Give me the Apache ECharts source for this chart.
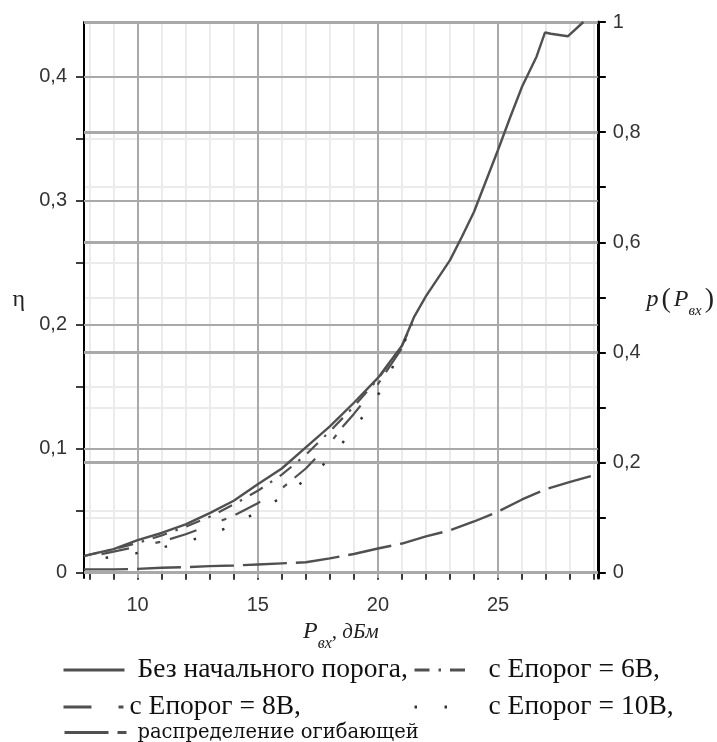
<!DOCTYPE html>
<html><head><meta charset="utf-8">
<script src="https://cdn.jsdelivr.net/npm/echarts@6/dist/echarts.min.js"></script>
<style>html,body{margin:0;padding:0;background:#fff}#c{width:717px;height:742px}</style>
</head><body><div id="c"></div>
<script>
// ---- tick values ----
const xTicks = [8,9,10,11,12,13,14,15,16,17,18,19,20,21,22,23,24,25,26,27,28,29];
const xLabels = [10,15,20,25];
const etaTicks = [0,0.05,0.1,0.15,0.2,0.25,0.3,0.35,0.4];
const etaLabels = [0,0.1,0.2,0.3,0.4];
const pTicks = [0,0.1,0.2,0.3,0.4,0.5,0.6,0.7,0.8,0.9,1];
const pLabels = [0,0.2,0.4,0.6,0.8,1];

// ---- series ----
const mainX = [7.77,8,9,10,11,12,13,14,15,16,17,18,19,20,21,21.5,22,23,23.5,24,25,25.5,26,26.6,26.95,27.2,27.9,28.55];
const mainY = [0.0134,0.0145,0.019,0.0263,0.032,0.039,0.048,0.058,0.0712,0.084,0.101,0.118,0.137,0.157,0.183,0.206,0.223,0.252,0.271,0.291,0.341,0.367,0.392,0.416,0.4355,0.4345,0.4325,0.444];

const v6X = [7.77,9,10,11,12,13,14,15,16,17,18,19,20,21,21.5];
const v6Y = [0.0134,0.019,0.024,0.030,0.037,0.045,0.055,0.066,0.079,0.095,0.114,0.134,0.156,0.183,0.204];

const v8X = [8.5,9,10,11,12,13,14,15,16,17,18,18.5,19,20,21];
const v8Y = [0.015,0.017,0.021,0.025,0.031,0.038,0.046,0.056,0.068,0.084,0.104,0.117,0.128,0.152,0.181];

const v10X = [8.67,9.93,11.17,12.5,13.72,14.9,16.02,17.03,18.02,18.82,19.64,20.36,20.88,21.5];
const v10Y = [0.012,0.0156,0.021,0.0277,0.036,0.048,0.061,0.0755,0.092,0.112,0.1325,0.154,0.178,0.201];

const distX = [7.77,9,10,11,12,13,14,15,16,17,18,19,20,21,22,23,24,25,26,27,28,29.15];
const distY = [0.006,0.006,0.007,0.009,0.010,0.012,0.013,0.015,0.017,0.019,0.026,0.034,0.044,0.053,0.066,0.077,0.093,0.111,0.133,0.152,0.165,0.179];

const names = ['Без начального порога,','с Епорог = 6В,','с Епорог = 8В,','с Епорог = 10В,','распределение огибающей'];

const zip = (xs, ys) => xs.map((x, i) => [x, ys[i]]);
const fmt = v => String(v).replace('.', ',');

const lineCol = '#505050';
const light = '#ebebeb', mid = '#a9a9a9';
const sansLab = {fontFamily:'Liberation Sans', fontSize:20, color:'#333'};

const chart = echarts.init(document.getElementById('c'), null, {renderer:'canvas'});
const legendText = {fontFamily:'Liberation Serif', fontSize:27.5, color:'#111', lineHeight:28};
const legendBase = {itemHeight:14, padding:0, selectedMode:false, itemStyle:{opacity:0}};
chart.setOption({
  animation:false,
  backgroundColor:'#fff',
  grid:{left:84, right:115, top:22, bottom:164},
  xAxis:[
    {type:'value', min:7.77, max:29.15, z:0,
     axisLine:{show:true, lineStyle:{color:'#000', width:2}},
     axisTick:{show:true, customValues:xTicks, length:7, lineStyle:{color:'#000', width:1.5}},
     axisLabel:{customValues:xLabels, margin:17, ...sansLab, formatter:fmt},
     splitLine:{show:true, lineStyle:{color:light, width:2}},
     name:'{i|P}{s|вх}{t|, дБм}', nameLocation:'middle', nameGap:34,
     nameTextStyle:{rich:{
       i:{fontFamily:'Liberation Serif', fontStyle:'italic', fontSize:24, color:'#222'},
       s:{fontFamily:'Liberation Serif', fontStyle:'italic', fontSize:16, color:'#222', padding:[24,0,0,0]},
       t:{fontFamily:'Liberation Serif', fontStyle:'italic', fontSize:21, color:'#222'}
     }}},
    {type:'value', min:7.77, max:29.15, position:'bottom', z:0.5,
     axisLine:{show:false}, axisTick:{show:false, customValues:xLabels}, axisLabel:{show:false},
     splitLine:{show:true, lineStyle:{color:mid, width:2}}}
  ],
  yAxis:[
    {type:'value', position:'left', min:-0.0043, max:0.444, z:0,
     axisLine:{show:true, lineStyle:{color:'#000', width:2}},
     axisTick:{show:true, customValues:etaTicks, length:8, lineStyle:{color:'#000', width:1.5}},
     axisLabel:{customValues:etaLabels, margin:17, ...sansLab, formatter:fmt},
     splitLine:{show:true, lineStyle:{color:light, width:2}},
     name:'η', nameLocation:'middle', nameRotate:0, nameGap:59,
     nameTextStyle:{fontFamily:'Liberation Serif', fontSize:24, color:'#222', align:'right', verticalAlign:'middle', padding:[14,0,0,0]}},
    {type:'value', position:'right', min:-0.0096, max:1, z:0,
     axisLine:{show:true, lineStyle:{color:'#000', width:3}},
     axisTick:{show:true, customValues:pTicks, length:8, lineStyle:{color:'#000', width:2}},
     axisLabel:{customValues:pLabels, margin:15, ...sansLab, formatter:fmt},
     splitLine:{show:true, lineStyle:{color:light, width:2}},
     name:'{i|p}{b|(}{i|P}{s|вх}{b|)}', nameLocation:'middle', nameRotate:0, nameGap:43,
     nameTextStyle:{align:'left', verticalAlign:'middle', rich:{
       i:{fontFamily:'Liberation Serif', fontStyle:'italic', fontSize:24, color:'#222'},
       b:{fontFamily:'Liberation Serif', fontSize:28, color:'#222', padding:[0,3,0,3]},
       s:{fontFamily:'Liberation Serif', fontStyle:'italic', fontSize:15, color:'#222', padding:[22,0,0,0]}
     }}},
    {type:'value', position:'left', min:-0.0043, max:0.444, z:0.5,
     axisLine:{show:false}, axisTick:{show:false, customValues:etaLabels}, axisLabel:{show:false},
     splitLine:{show:true, lineStyle:{color:mid, width:2}}},
    {type:'value', position:'right', min:-0.0096, max:1, z:0.6,
     axisLine:{show:false}, axisTick:{show:false, customValues:pLabels}, axisLabel:{show:false},
     splitLine:{show:true, lineStyle:{color:mid, width:3}}}
  ],
  legend:[
    {...legendBase, data:[names[0]], left:62, top:656, itemWidth:61, lineStyle:{width:3}, textStyle:{...legendText, padding:[0,0,0,8]}},
    {...legendBase, data:[names[1]], left:413, top:656, itemWidth:57, lineStyle:{width:3}, textStyle:{...legendText, padding:[0,0,0,12]}},
    {...legendBase, data:[names[2]], left:62, top:693, itemWidth:61, lineStyle:{width:3}, textStyle:{...legendText}},
    {...legendBase, data:[names[3]], left:413, top:693, itemWidth:57, lineStyle:{width:3}, textStyle:{...legendText, padding:[0,0,0,12]}},
    {...legendBase, data:[names[4]], left:63, top:721, itemWidth:62, lineStyle:{width:3}, textStyle:{fontFamily:'DejaVu Serif', fontSize:19.5, color:'#111', lineHeight:23, padding:[0,0,0,6]}}
  ],
  series:[
    {name:names[0], type:'line', xAxisIndex:0, yAxisIndex:0, data:zip(mainX, mainY), symbol:'none', smooth:false, z:2,
     lineStyle:{color:lineCol, width:2.4, type:'solid'}, itemStyle:{color:lineCol}},
    {name:names[1], type:'line', xAxisIndex:0, yAxisIndex:0, data:zip(v6X, v6Y), symbol:'none', z:2,
     lineStyle:{color:lineCol, width:2.2, type:[15,9,2.5,9]}, itemStyle:{color:lineCol}},
    {name:names[2], type:'line', xAxisIndex:0, yAxisIndex:0, data:zip(v8X, v8Y), symbol:'none', z:2,
     lineStyle:{color:lineCol, width:2.2, type:[28,27,5,10]}, itemStyle:{color:lineCol}},
    {name:names[3], type:'line', xAxisIndex:0, yAxisIndex:0, data:zip(v10X, v10Y), symbol:'none', z:2,
     lineStyle:{color:'#333', width:2.5, type:[2.5,27.5]}, itemStyle:{color:'#333'}},
    {name:names[4], type:'line', xAxisIndex:0, yAxisIndex:1, data:zip(distX, distY), symbol:'none', z:2,
     lineStyle:{color:lineCol, width:2.4, type:[44,9]}, itemStyle:{color:lineCol}}
  ]
});
</script></body></html>
